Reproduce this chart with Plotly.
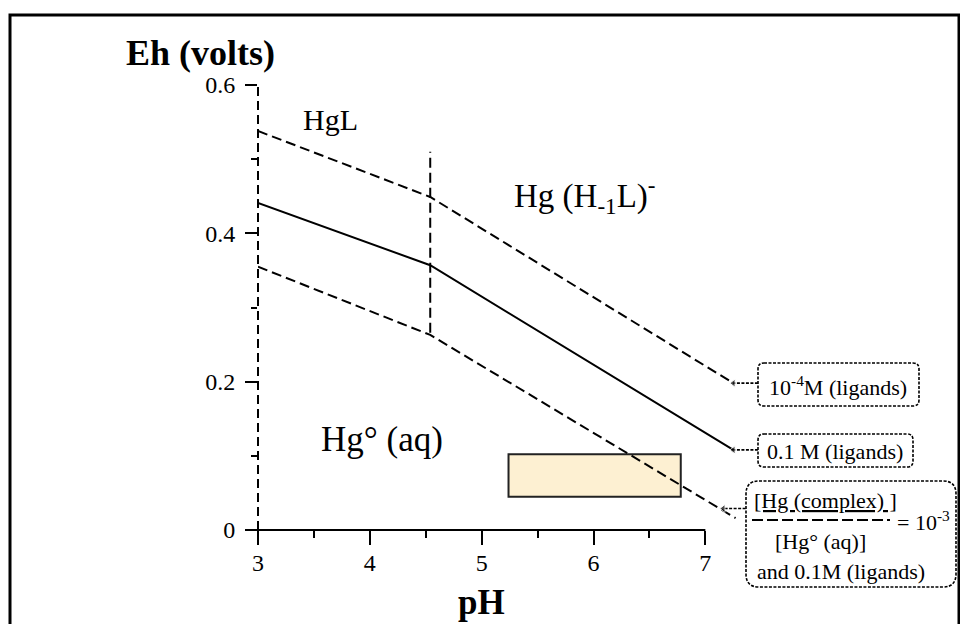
import plotly.graph_objects as go

# ---------------- data ----------------
pH_nodes = [3.0, 4.54, 7.25]
eh_1e4_ligands = [0.538, 0.449, 0.198]      # 10^-4 M ligands (dashed)
eh_01_ligands = [0.441, 0.357, 0.108]       # 0.1 M ligands (solid)
pH_nodes_ratio = [3.0, 4.54, 7.27]
eh_ratio_1e3 = [0.355, 0.263, 0.016]        # ratio 1e-3 and 0.1 M ligands (dashed)

boundary_pH = [4.54, 4.54]                  # HgL / Hg(H-1L)- boundary
boundary_eh = [0.266, 0.510]

rect_pH = [5.24, 6.78]
rect_eh = [0.045, 0.102]

x_ticks = [3, 4, 5, 6, 7]
x_minor = [3.5, 4.5, 5.5, 6.5]
y_ticks = [0, 0.2, 0.4, 0.6]
y_ticktext = ["0", "0.2", "0.4", "0.6"]
y_minor = [0.1, 0.3, 0.5]

# connectors: (tail pH, tip pH, Eh)
conn_tail_pH = [7.47, 7.47, 7.36]
conn_tip_pH = [7.25, 7.25, 7.16]
conn_eh = [0.198, 0.108, 0.029]

# ---------------- layout geometry ----------------
OFF = 8                      # page body margin
W, H = 968 - OFF, 624 - OFF  # figure size so the page fits the window
L, T = 258 - OFF, 85 - OFF
R = W - (806 - OFF)
B = H - (530 - OFF)
X_RANGE = [3, 3 + (W - L - R) / 111.84]
Y_RANGE = [0, 0.6]
PW, PH = W - L - R, H - T - B
FONT = "Liberation Serif, Times New Roman, serif"


def px(x, y):
    """page pixel -> paper fraction"""
    return (x - OFF - L) / PW, (H - B - (y - OFF)) / PH


def rounded_path(x0, y0, x1, y1, r):
    def P(x, y):
        a, b = px(x, y)
        return f"{a:.5f},{b:.5f}"
    s = f"M {P(x0 + r, y0)} L {P(x1 - r, y0)} Q {P(x1, y0)} {P(x1, y0 + r)} "
    s += f"L {P(x1, y1 - r)} Q {P(x1, y1)} {P(x1 - r, y1)} "
    s += f"L {P(x0 + r, y1)} Q {P(x0, y1)} {P(x0, y1 - r)} "
    s += f"L {P(x0, y0 + r)} Q {P(x0, y0)} {P(x0 + r, y0)} Z"
    return s


fig = go.Figure()

dash = "10px,5px"
fig.add_trace(go.Scatter(x=pH_nodes, y=eh_1e4_ligands, mode="lines",
                         line=dict(color="black", width=2, dash=dash)))
fig.add_trace(go.Scatter(x=pH_nodes, y=eh_01_ligands, mode="lines",
                         line=dict(color="black", width=2)))
fig.add_trace(go.Scatter(x=pH_nodes_ratio, y=eh_ratio_1e3, mode="lines",
                         line=dict(color="black", width=2, dash=dash)))
fig.add_trace(go.Scatter(x=boundary_pH, y=boundary_eh, mode="lines",
                         line=dict(color="black", width=2, dash=dash)))

for tx, hx, e in zip(conn_tail_pH, conn_tip_pH, conn_eh):
    fig.add_trace(go.Scatter(x=[tx, hx], y=[e, e], mode="lines+markers",
                             line=dict(color="black", width=1.6, dash="3px,1.5px"),
                             marker=dict(symbol="triangle-left", size=[0, 7],
                                         color="black")))

shapes = []
shapes.append(dict(type="rect", xref="x", yref="y", x0=rect_pH[0], x1=rect_pH[1],
                   y0=rect_eh[0], y1=rect_eh[1], fillcolor="#FDF0D2",
                   line=dict(color="#222", width=2), layer="below"))
shapes.append(dict(type="line", xref="paper", yref="paper", x0=0, x1=0, y0=0, y1=1,
                   line=dict(color="black", width=2, dash="9px,5px")))
shapes.append(dict(type="line", xref="paper", yref="paper", x0=px(245, 0)[0],
                   x1=(7 - X_RANGE[0]) / (X_RANGE[1] - X_RANGE[0]), y0=0, y1=0,
                   line=dict(color="black", width=2)))
fx0, fy0 = px(10, 15)
fx1, fy1 = px(959, 640)
shapes.append(dict(type="rect", xref="paper", yref="paper", x0=fx0, y0=fy1, x1=fx1, y1=fy0,
                   line=dict(color="black", width=3)))
box_line = dict(color="black", width=1.6, dash="3px,1.5px")
shapes.append(dict(type="path", xref="paper", yref="paper",
                   path=rounded_path(758, 363, 919, 406, 6), line=box_line))
shapes.append(dict(type="path", xref="paper", yref="paper",
                   path=rounded_path(758, 434, 913, 467, 6), line=box_line))
shapes.append(dict(type="path", xref="paper", yref="paper",
                   path=rounded_path(746, 481, 956, 587, 13), line=box_line))
a0, b0 = px(752, 520)
a1, _ = px(890, 520)
shapes.append(dict(type="line", xref="paper", yref="paper", x0=a0, x1=a1, y0=b0, y1=b0,
                   line=dict(color="black", width=2, dash="11px,4px")))

annotations = []


def note(text, x, y, size, bold=False, xanchor="center"):
    a, b = px(x, y)
    annotations.append(dict(text=f"<b>{text}</b>" if bold else text, x=a, y=b,
                            xref="paper", yref="paper", showarrow=False,
                            xanchor=xanchor, yanchor="middle",
                            font=dict(family=FONT, size=size, color="black")))


note("Eh (volts)", 200, 53, 36, bold=True)
note("pH", 481, 602, 35, bold=True)
note("HgL", 330, 119, 30)
note("Hg (H<sub>-1</sub>L)<sup>-</sup>", 585, 195, 33)
note("Hg° (aq)", 382, 439, 35)
note("10<sup>-4</sup>M (ligands)", 838, 386, 22)
note("0.1 M (ligands)", 835, 451, 22)
note("<u>[Hg (complex) ]</u>", 825, 500, 22)
note("= 10<sup>-3</sup>", 923, 521, 22)
note("[Hg° (aq)]", 820, 541, 22)
note("and 0.1M (ligands)", 841, 571, 22)

tick_font = dict(family=FONT, size=24, color="black")
fig.update_layout(
    width=W, height=H,
    margin=dict(l=L, r=R, t=T, b=B, pad=0),
    paper_bgcolor="white", plot_bgcolor="white",
    showlegend=False, hovermode=False,
    shapes=shapes, annotations=annotations,
    xaxis=dict(range=X_RANGE, tickvals=x_ticks, ticks="outside", ticklen=14,
               tickwidth=2, tickcolor="black", showline=False, showgrid=False,
               zeroline=False, tickfont=tick_font, ticklabelstandoff=-3,
               minor=dict(tickvals=x_minor, ticks="outside", ticklen=7,
                          tickwidth=2, tickcolor="black", showgrid=False)),
    yaxis=dict(range=Y_RANGE, tickvals=y_ticks, ticktext=y_ticktext, ticks="outside",
               ticklen=12, tickwidth=2, tickcolor="black", showline=False,
               showgrid=False, zeroline=False, tickfont=tick_font,
               ticklabelstandoff=5,
               minor=dict(tickvals=y_minor, ticks="outside", ticklen=6,
                          tickwidth=2, tickcolor="black", showgrid=False)),
)

fig.write_html("out.html")
